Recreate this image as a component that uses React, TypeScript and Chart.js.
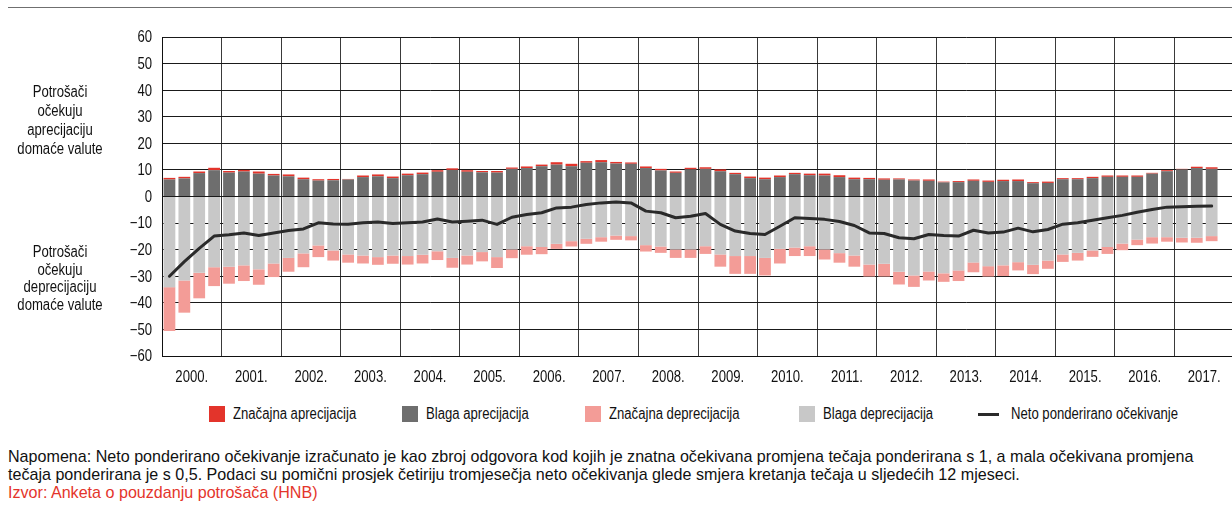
import React, { useEffect, useRef } from "react";
import { Chart, registerables } from "chart.js";

Chart.register(...registerables);

const SANS = "'Liberation Sans', Arial, Helvetica, sans-serif";
const CONDENSE = 0.82; // narrow-face width ratio

// Year tick labels (each year = 4 quarters)
const years = [
  "2000.", "2001.", "2002.", "2003.", "2004.", "2005.", "2006.", "2007.", "2008.",
  "2009.", "2010.", "2011.", "2012.", "2013.", "2014.", "2015.", "2016.", "2017.",
];
const quarterNames = ["I.", "II.", "III.", "IV."];
const categories = years.flatMap((y) => quarterNames.map((q) => q + y));

// Blaga aprecijacija (mild appreciation), %
const blagaAprecijacija = [
  6.4, 6.8, 8.8, 9.9,
  9.0, 9.4, 8.6, 7.9,
  7.6, 6.5, 6.0, 6.1,
  6.4, 7.3, 7.6, 6.9,
  8.0, 8.4, 9.3, 10.0,
  9.3, 9.1, 9.0, 10.4,
  10.7, 11.4, 12.0, 11.4,
  12.7, 12.9, 12.4, 12.3,
  10.7, 9.8, 8.9, 10.2,
  10.4, 9.5, 8.4, 6.9,
  6.5, 7.3, 8.4, 8.0,
  7.9, 7.3, 6.5, 6.5,
  6.3, 6.4, 6.0, 5.9,
  5.3, 5.4, 5.9, 5.5,
  5.8, 5.8, 5.0, 5.1,
  6.5, 6.5, 6.9, 7.4,
  7.4, 7.4, 8.6, 9.5,
  10.2, 10.7, 10.4, null,
];

// Značajna aprecijacija (significant appreciation), %
const znacajnaAprecijacija = [
  0.6, 0.6, 0.6, 0.9,
  0.6, 0.6, 0.8, 0.6,
  0.7, 0.6, 0.5, 0.5,
  0.2, 0.6, 0.7, 0.6,
  0.6, 0.6, 0.6, 0.6,
  0.6, 0.5, 0.6, 0.5,
  0.6, 0.6, 0.9, 0.9,
  0.6, 0.8, 0.6, 0.5,
  0.6, 0.6, 0.5, 0.6,
  0.6, 0.7, 0.5, 0.6,
  0.6, 0.6, 0.5, 0.6,
  0.7, 0.7, 0.6, 0.5,
  0.5, 0.4, 0.4, 0.5,
  0.3, 0.4, 0.5, 0.5,
  0.5, 0.6, 0.4, 0.5,
  0.4, 0.4, 0.5, 0.5,
  0.5, 0.5, 0.3, 0.4,
  0.2, 0.5, 0.6, null,
];

// Blaga deprecijacija (mild depreciation), %
const blagaDeprecijacija = [
  -34.1, -31.6, -28.7, -26.6,
  -26.4, -25.9, -27.4, -25.2,
  -23.1, -21.4, -18.4, -20.3,
  -21.8, -22.2, -22.8, -22.2,
  -22.4, -21.9, -20.6, -23.1,
  -22.2, -20.9, -22.8, -19.9,
  -18.7, -19.0, -17.8, -16.8,
  -15.9, -15.3, -14.7, -14.9,
  -18.3, -18.8, -19.9, -19.9,
  -18.7, -21.8, -22.4, -22.4,
  -23.1, -19.7, -19.2, -18.7,
  -19.9, -21.3, -22.2, -25.6,
  -25.3, -28.3, -29.7, -28.2,
  -28.9, -27.8, -24.8, -26.2,
  -25.9, -24.7, -25.7, -24.1,
  -21.8, -21.2, -20.3, -19.0,
  -17.7, -16.2, -15.3, -15.3,
  -15.5, -15.5, -14.9, null,
];

// Značajna deprecijacija (significant depreciation), %
const znacajnaDeprecijacija = [
  -16.5, -12.1, -9.6, -7.1,
  -6.4, -5.9, -5.8, -5.1,
  -5.2, -5.2, -4.4, -3.8,
  -3.1, -3.0, -2.9, -3.1,
  -3.2, -3.3, -3.3, -3.7,
  -3.4, -3.5, -4.1, -3.3,
  -3.2, -2.7, -1.9, -2.0,
  -1.9, -1.7, -1.6, -1.6,
  -2.4, -2.4, -3.2, -3.2,
  -2.9, -4.6, -6.7, -6.7,
  -6.6, -5.5, -3.2, -3.7,
  -3.8, -3.6, -4.2, -4.5,
  -4.8, -4.8, -4.3, -3.4,
  -3.2, -4.0, -3.7, -3.9,
  -4.0, -3.1, -3.5, -3.1,
  -2.8, -2.9, -2.4, -2.6,
  -2.5, -2.1, -2.4, -1.7,
  -1.8, -1.9, -1.9, null,
];

// Neto ponderirano očekivanje (net weighted expectation)
const netoOcekivanje = [
  -30.0, -24.5, -19.5, -14.9,
  -14.4, -13.7, -14.7, -13.7,
  -12.8, -12.2, -9.9, -10.3,
  -10.4, -9.9, -9.6, -10.2,
  -9.9, -9.6, -8.5, -9.6,
  -9.3, -8.9, -10.5, -7.8,
  -6.8, -6.1, -4.3, -4.0,
  -3.0, -2.4, -2.1, -2.4,
  -5.5, -6.1, -8.0, -7.4,
  -6.4, -10.5, -13.0, -13.9,
  -14.3, -11.2, -8.0, -8.3,
  -8.6, -9.4, -10.9, -13.7,
  -13.9, -15.5, -15.9, -14.3,
  -14.7, -14.9, -12.7, -13.7,
  -13.4, -11.9, -13.3, -12.4,
  -10.4, -9.9, -8.9, -8.0,
  -7.1, -5.9, -4.9, -4.0,
  -3.9, -3.7, -3.6, null,
];

const COLORS = {
  red: "#e3342b",
  dark: "#6e6e6e",
  pink: "#f39c97",
  light: "#c8c8c8",
  line: "#2a2a2a",
  text: "#111",
};

const legendItems = [
  { label: "Značajna aprecijacija", color: COLORS.red, left: 209, kind: "box" },
  { label: "Blaga aprecijacija", color: COLORS.dark, left: 401.5, kind: "box" },
  { label: "Značajna deprecijacija", color: COLORS.pink, left: 585, kind: "box" },
  { label: "Blaga deprecijacija", color: COLORS.light, left: 798.5, kind: "box" },
  { label: "Neto ponderirano očekivanje", color: COLORS.line, left: 978, kind: "line" },
];

const formatY = (v: number) => (v < 0 ? "\u2212" + Math.abs(v) : String(v));

// Draws the axis tick labels in a condensed face (horizontally scaled text)
const condensedTickLabels = {
  id: "condensedTickLabels",
  afterDraw(chart: any) {
    const ctx = chart.ctx as CanvasRenderingContext2D;
    const y = chart.scales.y;
    const x2 = chart.scales.x2;
    ctx.save();
    ctx.font = `16px ${SANS}`;
    ctx.fillStyle = COLORS.text;
    ctx.textAlign = "right";
    ctx.textBaseline = "middle";
    y.ticks.forEach((t: any, i: number) => {
      const py = y.getPixelForTick(i);
      ctx.save();
      ctx.translate(y.right - 10, py + 1);
      ctx.scale(CONDENSE, 1);
      ctx.fillText(formatY(t.value), 0, 0);
      ctx.restore();
    });
    ctx.textAlign = "center";
    x2.ticks.forEach((t: any, i: number) => {
      const px = x2.getPixelForTick(i);
      ctx.save();
      ctx.translate(px, chart.chartArea.bottom + 22);
      ctx.scale(CONDENSE, 1);
      ctx.fillText(String(x2.getLabelForValue(t.value)), 0, 0);
      ctx.restore();
    });
    ctx.restore();
  },
};

function Condensed({ children, origin, style }: { children: React.ReactNode; origin: string; style?: React.CSSProperties }) {
  return (
    <div
      style={{
        fontFamily: SANS,
        fontSize: 16,
        color: COLORS.text,
        transform: `scaleX(${CONDENSE})`,
        transformOrigin: origin,
        ...style,
      }}
    >
      {children}
    </div>
  );
}

export default function App() {
  const canvasRef = useRef<HTMLCanvasElement | null>(null);

  useEffect(() => {
    if (!canvasRef.current) return;

    const barCommon = {
      stack: "bars",
      barPercentage: 0.79,
      categoryPercentage: 1,
      borderWidth: 0,
      xAxisID: "x",
      yAxisID: "y",
    };

    const chart = new Chart(canvasRef.current, {
      type: "bar",
      data: {
        labels: categories,
        datasets: [
          { ...barCommon, label: "Blaga aprecijacija", data: blagaAprecijacija, backgroundColor: COLORS.dark },
          { ...barCommon, label: "Značajna aprecijacija", data: znacajnaAprecijacija, backgroundColor: COLORS.red },
          { ...barCommon, label: "Blaga deprecijacija", data: blagaDeprecijacija, backgroundColor: COLORS.light },
          { ...barCommon, label: "Značajna deprecijacija", data: znacajnaDeprecijacija, backgroundColor: COLORS.pink },
          {
            type: "line",
            label: "Neto ponderirano očekivanje",
            data: netoOcekivanje,
            borderColor: COLORS.line,
            backgroundColor: COLORS.line,
            borderWidth: 3,
            pointRadius: 0,
            tension: 0,
            borderJoinStyle: "round",
            borderCapStyle: "round",
            stack: "line",
            order: -1,
            xAxisID: "x",
            yAxisID: "y",
          } as any,
        ],
      },
      options: {
        animation: false,
        responsive: true,
        maintainAspectRatio: false,
        layout: { padding: { top: 37, left: 0, right: 0, bottom: 0 } },
        plugins: {
          legend: { display: false },
          tooltip: { enabled: false },
        },
        scales: {
          x: {
            type: "category",
            display: false,
            offset: true,
            stacked: true,
          },
          x2: {
            type: "category",
            labels: years,
            position: "bottom",
            offset: true,
            grid: { offset: true, color: "#3a3a3a", lineWidth: 1, drawTicks: false },
            border: { display: true, color: "#111", width: 1 },
            ticks: { display: false, autoSkip: false, maxRotation: 0, minRotation: 0 },
            afterFit: (s: any) => {
              s.height = 44;
            },
          } as any,
          y: {
            min: -60,
            max: 60,
            stacked: true,
            grid: { color: "#1a1a1a", lineWidth: 1, drawTicks: false },
            border: { display: true, color: "#111", width: 1 },
            ticks: { display: false, stepSize: 10 },
            afterFit: (s: any) => {
              s.width = 162;
            },
          } as any,
        },
      },
      plugins: [condensedTickLabels],
    });
    return () => chart.destroy();
  }, []);

  return (
    <div
      style={{
        position: "absolute",
        left: 0,
        top: 0,
        width: 1232,
        height: 505,
        overflow: "hidden",
        background: "#fff",
      }}
    >
      <div style={{ position: "absolute", left: 8, right: 0, top: 7, height: 1, background: "#6f6f6f" }} />
      <div style={{ position: "absolute", left: 0, top: 0, width: 1234, height: 400 }}>
        <canvas ref={canvasRef} />
      </div>

      <Condensed
        origin="60px 0"
        style={{ position: "absolute", left: 0, width: 120, top: 81.5, lineHeight: "19px", textAlign: "center" }}
      >
        Potrošači
        <br />
        očekuju
        <br />
        aprecijaciju
        <br />
        domaće valute
      </Condensed>
      <Condensed
        origin="60px 0"
        style={{ position: "absolute", left: 0, width: 120, top: 243, lineHeight: "17.7px", textAlign: "center" }}
      >
        Potrošači
        <br />
        očekuju
        <br />
        deprecijaciju
        <br />
        domaće valute
      </Condensed>

      {legendItems.map((it) => (
        <div key={it.label}>
          {it.kind === "box" ? (
            <div
              style={{
                position: "absolute",
                left: it.left,
                top: 406,
                width: 16,
                height: 16,
                background: it.color,
              }}
            />
          ) : (
            <div
              style={{
                position: "absolute",
                left: it.left,
                top: 412.5,
                width: 20.5,
                height: 3,
                background: it.color,
              }}
            />
          )}
          <Condensed
            origin="0 0"
            style={{
              position: "absolute",
              left: it.kind === "box" ? it.left + 24 : it.left + 32.5,
              top: 404,
              lineHeight: "20px",
              whiteSpace: "nowrap",
            }}
          >
            {it.label}
          </Condensed>
        </div>
      ))}

      <div
        style={{
          position: "absolute",
          left: 8,
          top: 447,
          fontFamily: SANS,
          fontSize: 16.1,
          lineHeight: "18px",
          color: COLORS.text,
          whiteSpace: "nowrap",
        }}
      >
        Napomena: Neto ponderirano očekivanje izračunato je kao zbroj odgovora kod kojih je znatna očekivana promjena
        tečaja ponderirana s 1, a mala očekivana promjena
        <br />
        tečaja ponderirana je s 0,5. Podaci su pomični prosjek četiriju tromjesečja neto očekivanja glede smjera
        kretanja tečaja u sljedećih 12 mjeseci.
        <br />
        <span style={{ color: "#e4352b" }}>Izvor: Anketa o pouzdanju potrošača (HNB)</span>
      </div>
    </div>
  );
}
